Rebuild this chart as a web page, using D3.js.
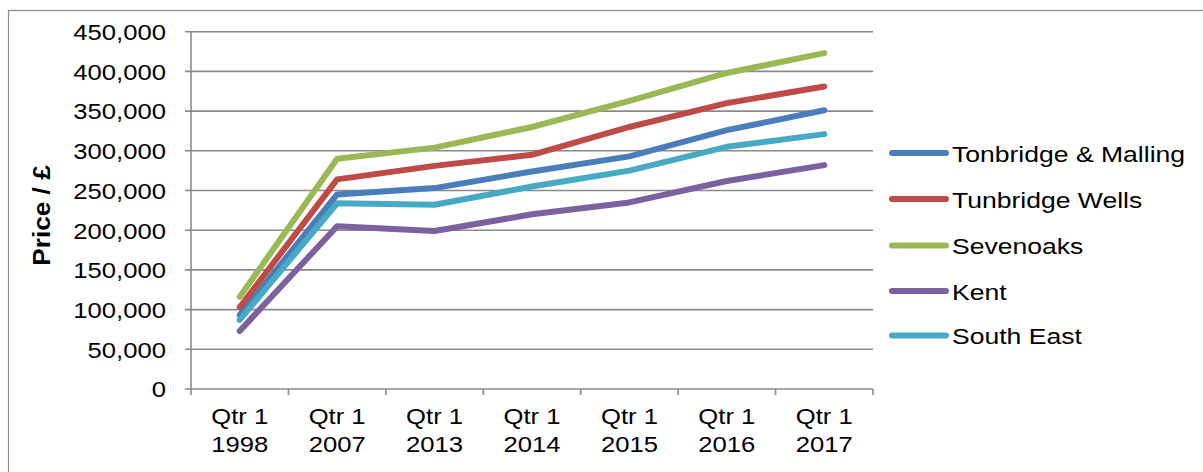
<!DOCTYPE html>
<html>
<head>
<meta charset="utf-8">
<script src="https://cdn.jsdelivr.net/npm/d3@7"></script>
<style>
  html, body { margin: 0; padding: 0; background: #fff; }
  svg { display: block; }
  text { font-family: "Liberation Sans", Arial, sans-serif; fill: #000; }
</style>
</head>
<body>
<svg id="chart" width="1203" height="472"></svg>
<script>
const categories = ["Qtr 1|1998", "Qtr 1|2007", "Qtr 1|2013", "Qtr 1|2014", "Qtr 1|2015", "Qtr 1|2016", "Qtr 1|2017"];
const seriesNames = ["Tonbridge & Malling", "Tunbridge Wells", "Sevenoaks", "Kent", "South East"];
const tonbridgeMalling = [93000, 245000, 253000, 274000, 293000, 326000, 351000];
const tunbridgeWells   = [103000, 264000, 281000, 295000, 330000, 360000, 381000];
const sevenoaks        = [116000, 290000, 304000, 330000, 363000, 398000, 423000];
const kent             = [73000, 205000, 199000, 220000, 235000, 262000, 282000];
const southEast        = [87000, 234000, 232000, 255000, 275000, 305000, 321000];
const yTicks = [0, 50000, 100000, 150000, 200000, 250000, 300000, 350000, 400000, 450000];
const colors = ["#4a7ebb", "#be4b48", "#98b954", "#7d60a0", "#46aac5"];
const yTitle = "Price / £";

const seriesValues = [tonbridgeMalling, tunbridgeWells, sevenoaks, kent, southEast];
const svg = d3.select("#chart");
const SX = 1.14; // horizontal text stretch

// outer border
svg.append("rect").attr("x", 8.5).attr("y", 10.5).attr("width", 1300).attr("height", 600)
  .attr("fill", "none").attr("stroke", "#8c8c8c").attr("stroke-width", 1.2);

const plotL = 191, plotR = 873, plotT = 31.7, plotB = 389;
const x = d3.scaleBand().domain(categories).range([plotL, plotR]);
const y = d3.scaleLinear().domain([0, 450000]).range([plotB, plotT]);
const xc = c => x(c) + x.bandwidth() / 2;

const grid = svg.append("g");
yTicks.forEach(t => {
  grid.append("line").attr("x1", plotL - 6).attr("x2", plotR)
    .attr("y1", y(t)).attr("y2", y(t))
    .attr("stroke", "#8a8a8a").attr("stroke-width", 1.6);
  const g = svg.append("g").attr("transform", `translate(166,${y(t) + 8.3}) scale(${SX},1)`);
  g.append("text").attr("text-anchor", "end").attr("font-size", 22.5)
    .text(d3.format(",")(t));
});
// y axis line
svg.append("line").attr("x1", plotL).attr("x2", plotL).attr("y1", plotT).attr("y2", plotB)
  .attr("stroke", "#8a8a8a").attr("stroke-width", 1.6);
// x axis ticks at band boundaries
const bounds = categories.map(c => x(c)).concat([plotR]);
bounds.forEach(b => {
  svg.append("line").attr("x1", b).attr("x2", b).attr("y1", plotB).attr("y2", plotB + 6)
    .attr("stroke", "#8a8a8a").attr("stroke-width", 1.6);
});
// x labels
categories.forEach(c => {
  const parts = c.split("|");
  parts.forEach((p, i) => {
    const g = svg.append("g").attr("transform", `translate(${xc(c)},${424.3 + i * 27.4}) scale(${SX},1)`);
    g.append("text").attr("text-anchor", "middle").attr("font-size", 22.5).text(p);
  });
});

// y title
svg.append("g").attr("transform", `translate(50,215.5) rotate(-90) scale(${SX},1)`)
  .append("text").attr("text-anchor", "middle").attr("font-size", 23).attr("font-weight", "bold")
  .text(yTitle);

// lines
const line = d3.line().x((d, i) => xc(categories[i])).y(d => y(d));
seriesValues.forEach((vals, si) => {
  svg.append("path").datum(vals).attr("d", line)
    .attr("fill", "none").attr("stroke", colors[si]).attr("stroke-width", 6)
    .attr("stroke-linecap", "round").attr("stroke-linejoin", "round");
});

// legend
const legY = [153, 199, 245.5, 291, 335.5];
seriesNames.forEach((n, i) => {
  svg.append("line").attr("x1", 892).attr("x2", 946).attr("y1", legY[i]).attr("y2", legY[i])
    .attr("stroke", colors[i]).attr("stroke-width", 6).attr("stroke-linecap", "round");
  svg.append("g").attr("transform", `translate(952,${legY[i] + 8.5}) scale(1.18,1)`)
    .append("text").attr("font-size", 22.5).text(n);
});
</script>
</body>
</html>
